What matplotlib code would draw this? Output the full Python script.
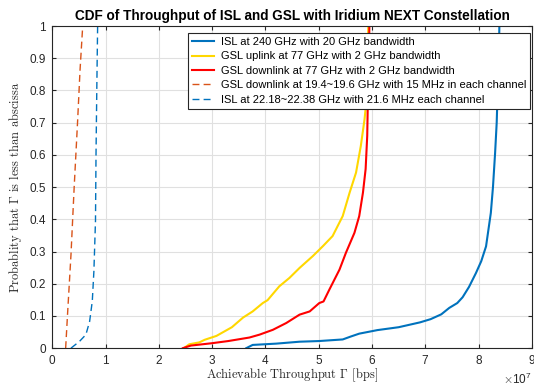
import matplotlib
matplotlib.use("Agg")

import matplotlib.pyplot as plt
from matplotlib.ticker import ScalarFormatter, MultipleLocator
import numpy as np

plt.rcParams["font.family"] = ["Liberation Sans", "DejaVu Sans"]
plt.rcParams["mathtext.fontset"] = "cm"

# throughput values in units of 1e7 bps, CDF probability
isl240_x = [3.64, 3.76, 4.2, 4.64, 5.0, 5.45, 5.6, 5.76, 6.1, 6.5, 6.9, 7.1, 7.3, 7.45,
            7.6, 7.7, 7.82, 7.95, 8.05, 8.14, 8.23, 8.27, 8.31, 8.34, 8.36, 8.38, 8.39]
isl240_y = [0, 0.01, 0.014, 0.02, 0.022, 0.027, 0.036, 0.045, 0.056, 0.065, 0.08, 0.09, 0.105, 0.125,
            0.14, 0.158, 0.19, 0.233, 0.27, 0.316, 0.42, 0.5, 0.606, 0.7, 0.81, 0.9, 1.0]

up77_x = [2.47, 2.57, 2.76, 2.86, 3.08, 3.37, 3.58, 3.76, 3.95, 4.04, 4.26, 4.45, 4.64, 4.89,
          5.08, 5.26, 5.45, 5.58, 5.70, 5.79, 5.86, 5.89, 5.91, 5.93]
up77_y = [0, 0.012, 0.018, 0.026, 0.038, 0.065, 0.095, 0.114, 0.14, 0.149, 0.192, 0.218, 0.249, 0.286,
          0.317, 0.348, 0.41, 0.483, 0.545, 0.628, 0.711, 0.76, 0.86, 1.0]

down77_x = [2.45, 2.6, 2.98, 3.3, 3.7, 3.89, 4.14, 4.39, 4.64, 4.83, 5.01, 5.09, 5.2, 5.39,
            5.51, 5.67, 5.76, 5.83, 5.88, 5.91, 5.92, 5.94, 5.95]
down77_y = [0, 0.008, 0.015, 0.022, 0.033, 0.042, 0.057, 0.078, 0.104, 0.114, 0.14, 0.145, 0.182, 0.244,
            0.296, 0.358, 0.41, 0.483, 0.556, 0.659, 0.753, 0.87, 1.0]

down19_x = [0.25, 0.285, 0.35, 0.41, 0.475, 0.52, 0.57]
down19_y = [0, 0.104, 0.29, 0.5, 0.707, 0.863, 1.0]

isl22_x = [0.35, 0.51, 0.63, 0.70, 0.75, 0.78, 0.81, 0.82, 0.835, 0.85]
isl22_y = [0, 0.021, 0.042, 0.083, 0.146, 0.239, 0.395, 0.603, 0.81, 1.0]

labels = [
    "ISL at 240 GHz with 20 GHz bandwidth",
    "GSL uplink at 77 GHz with 2 GHz bandwidth",
    "GSL downlink at 77 GHz with 2 GHz bandwidth",
    "GSL downlink at 19.4~19.6 GHz with 15 MHz in each channel",
    "ISL at 22.18~22.38 GHz with 21.6 MHz each channel",
]

scale = 1e7

fig = plt.figure(figsize=(5.34, 3.83), dpi=100)
ax = fig.add_axes([0.098, 0.091, 0.898, 0.841])

ax.plot(np.array(isl240_x) * scale, isl240_y, color="#0072BD", lw=1.5, label=labels[0])
ax.plot(np.array(up77_x) * scale, up77_y, color="#FFD700", lw=1.5, label=labels[1])
ax.plot(np.array(down77_x) * scale, down77_y, color="#FF0000", lw=1.5, label=labels[2])
ax.plot(np.array(down19_x) * scale, down19_y, color="#D95319", lw=1.0,
        dashes=(5, 3), label=labels[3])
ax.plot(np.array(isl22_x) * scale, isl22_y, color="#0072BD", lw=1.0,
        dashes=(5, 3), label=labels[4])

ax.set_xlim(0, 9e7)
ax.set_ylim(0, 1)
ax.xaxis.set_major_locator(MultipleLocator(1e7))
fmt = ScalarFormatter(useMathText=True)
fmt.set_powerlimits((0, 0))
ax.xaxis.set_major_formatter(fmt)
ax.set_yticks(np.arange(0, 1.01, 0.1))
ax.set_yticklabels(["0", "0.1", "0.2", "0.3", "0.4", "0.5", "0.6", "0.7", "0.8", "0.9", "1"])

ax.grid(True, color="#e0e0e0", lw=0.8)
ax.set_axisbelow(True)
for s in ax.spines.values():
    s.set_color("#262626")
    s.set_linewidth(0.8)
ax.tick_params(direction="in", top=True, right=True, length=3, width=0.8,
               colors="#262626", labelsize=8.5)
ax.tick_params(axis="x", pad=4.5)
ax.tick_params(axis="y", pad=4.5)
ax.xaxis.get_offset_text().set_fontsize(8.5)
ax.xaxis.get_offset_text().set_color("#262626")

ax.set_title("CDF of Throughput of ISL and GSL with Iridium NEXT Constellation",
             fontsize=9.8, fontweight="bold", pad=4)
ax.set_xlabel(r"Achievable Throughput $\Gamma$ [bps]", family="cmr10", fontsize=9,
              color="#262626", labelpad=-1)
ax.set_ylabel(r"Probablity that $\Gamma$ is less than abscissa", family="cmr10", fontsize=9,
              color="#262626", labelpad=4)

leg = ax.legend(loc="upper right", fontsize=8, frameon=True, fancybox=False,
                edgecolor="#262626", framealpha=1, handlelength=2.0,
                borderpad=0.35, labelspacing=0.4, handletextpad=0.6,
                bbox_to_anchor=(0.997, 0.978), borderaxespad=0)
leg.get_frame().set_linewidth(0.8)

fig.savefig("out.png", dpi=100)
